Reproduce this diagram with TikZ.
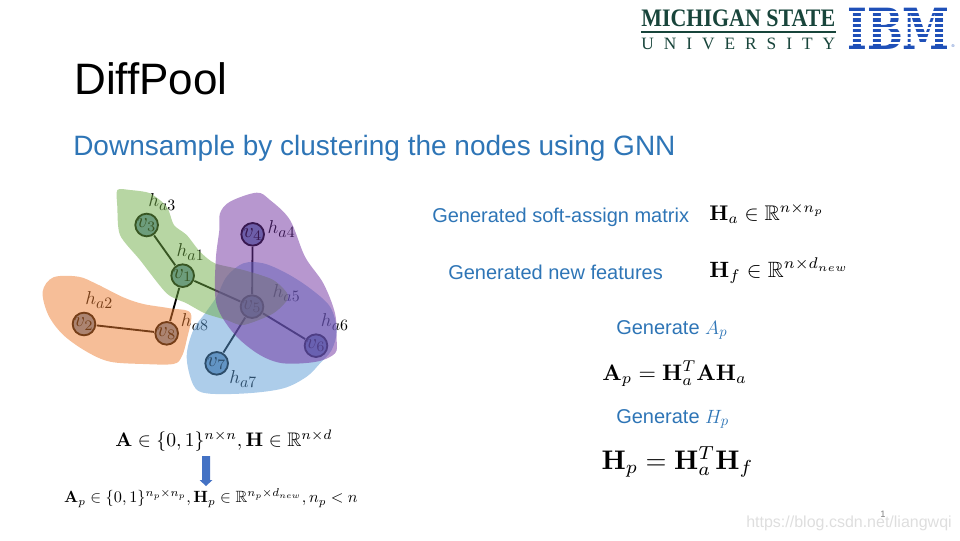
\documentclass[tikz,border=0pt]{standalone}
\usepackage{amsmath,amssymb,graphicx}
\usepackage[no-math]{fontspec}
\setmainfont{Liberation Sans}
\newfontfamily\msufont{Liberation Serif}
\newfontfamily\ibmfont{DejaVu Serif}
\definecolor{slideblue}{HTML}{2E75B6}
\definecolor{msugreen}{HTML}{18453B}
\definecolor{ibmblue}{HTML}{1F50B8}
\definecolor{vfill}{HTML}{6B8DB3}
\definecolor{arrowblue}{HTML}{4472C4}
\newcommand{\hsub}[1]{h_{\scalebox{.85}{$#1$}}}
\tikzset{
  vert/.style={circle,draw=black,line width=1.4pt,fill=vfill,minimum size=10.8pt,inner sep=0pt,scale=1.55},
  vedge/.style={draw=black,line width=1.4pt},
  hlab/.style={inner sep=0pt,scale=1.4},
  blob/.style={fill opacity=0.5,draw=none},
  bodytext/.style={text=slideblue,inner sep=0pt,font=\fontsize{15}{18}\selectfont,anchor=base west},
  formula/.style={inner sep=0pt,text=black},
  gap/.style={fill=white,draw=none}
}
\begin{document}
\begin{tikzpicture}[x=0.75pt,y=-0.75pt]
\useasboundingbox (0,0) rectangle (960,540);
% titles
\node[inner sep=0pt,anchor=base west,font=\fontsize{33}{36}\selectfont] (title) at (74,94) {DiffPool};
\node[inner sep=0pt,anchor=base west,text=slideblue,font=\fontsize{21}{24}\selectfont] (subtitle) at (73,155) {Downsample by clustering the nodes using GNN};
% graph (lies beneath the translucent clusters)
\begin{scope}[shift={(30,180)},x=0.25pt,y=-0.25pt]
\node[vert] (v1) at (458,287) {$v_1$};
\node[vert] (v2) at (162,432) {$v_2$};
\node[vert] (v3) at (350,135) {$v_3$};
\node[vert] (v4) at (668,163) {$v_4$};
\node[vert] (v5) at (666,380) {$v_5$};
\node[vert] (v6) at (858,497) {$v_6$};
\node[vert] (v7) at (560,550) {$v_7$};
\node[vert] (v8) at (410,460) {$v_8$};
\draw[vedge] (v3)--(v1);
\draw[vedge] (v1)--(v5);
\draw[vedge] (v1)--(v8);
\draw[vedge] (v2)--(v8);
\draw[vedge] (v4)--(v5);
\draw[vedge] (v5)--(v6);
\draw[vedge] (v5)--(v7);
\node[hlab] (h1) at (482,216) {$\hsub{a1}$};
\node[hlab] (h2) at (208,361) {$\hsub{a2}$};
\node[hlab] (h3) at (397,67) {$\hsub{a3}$};
\node[hlab] (h4) at (755,146) {$\hsub{a4}$};
\node[hlab] (h5) at (770,338) {$\hsub{a5}$};
\node[hlab] (h6) at (915,425) {$\hsub{a6}$};
\node[hlab] (h7) at (640,597) {$\hsub{a7}$};
\node[hlab] (h8) at (495,426) {$\hsub{a8}$};
% clusters
\fill[blob,fill={rgb,255:red,237;green,125;blue,49}] plot[smooth cycle,tension=.55] coordinates {(38,335)(70,292)(145,290)(200,312)(280,352)(340,372)(420,385)(482,400)(470,480)(455,530)(430,552)(340,552)(240,545)(170,515)(100,465)(55,405)};
\fill[blob,fill={rgb,255:red,91;green,155;blue,213}] plot[smooth cycle,tension=.55] coordinates {(470,530)(490,450)(525,400)(560,350)(590,290)(640,250)(700,250)(770,280)(840,325)(900,380)(920,450)(905,510)(870,550)(830,590)(760,625)(650,640)(530,640)(490,615)};
\fill[blob,fill={rgb,255:red,112;green,173;blue,71}] plot[smooth cycle,tension=.45] coordinates {(262,30)(300,30)(360,40)(410,80)(432,135)(470,165)(510,215)(555,250)(640,270)(730,300)(775,350)(730,400)(640,435)(590,420)(525,400)(470,370)(410,340)(330,240)(270,165)(262,80)};
\fill[blob,fill={rgb,255:red,112;green,48;blue,160}] plot[smooth cycle,tension=.55] coordinates {(570,100)(600,65)(680,38)(720,60)(780,120)(825,230)(880,310)(915,400)(920,480)(915,520)(860,545)(760,550)(690,525)(620,470)(570,400)(555,340)(558,230)(568,150)};
\end{scope}
% left formulas
\node[formula,scale=1.47] (f1) at (224,441) {$\mathbf{A}\in\{0,1\}^{n\times n},\mathbf{H}\in\mathbb{R}^{n\times d}$};
\node[formula,scale=1.22] (f2) at (211,498) {$\mathbf{A}_p\in\{0,1\}^{n_p\times n_p},\mathbf{H}_p\in\mathbb{R}^{n_p\times d_{new}},n_p<n$};
\fill[arrowblue] (202,456)--(210,456)--(210,480)--(212.5,480)--(206,486)--(199.5,480)--(202,480)--cycle;
% right text
\node[bodytext] (t1) at (432,222) {Generated soft-assign matrix};
\node[bodytext] (t2) at (448,279) {Generated new features};
\node[bodytext] (t3) at (616,334) {Generate $A_p$};
\node[bodytext] (t4) at (616,423) {Generate $H_p$};
\node[formula,anchor=base west,scale=1.59] (e1) at (709,220) {$\mathbf{H}_a\in\mathbb{R}^{n\times n_p}$};
\node[formula,anchor=base west,scale=1.66] (e2) at (709,277) {$\mathbf{H}_f\in\mathbb{R}^{n\times d_{new}}$};
\node[formula,anchor=base west,scale=1.68] (e3) at (602,380) {$\mathbf{A}_p=\mathbf{H}_a^T\mathbf{A}\mathbf{H}_a$};
\node[formula,anchor=base west,scale=2.02] (e4) at (601,469) {$\mathbf{H}_p=\mathbf{H}_a^T\mathbf{H}_f$};
% MSU logo
\node[inner sep=0pt,anchor=north west,text=msugreen] (msu) at (641,10) {\resizebox{145.5pt}{12.5pt}{\msufont\bfseries MICHIGAN STATE}};
\draw[msugreen,line width=1.2pt] (641,32)--(836,32);
\node[inner sep=0pt,anchor=north west,text=msugreen] (uni) at (641,38) {\makebox[145.5pt][s]{\fontsize{13}{14}\msufont U\hfill N\hfill I\hfill V\hfill E\hfill R\hfill S\hfill I\hfill T\hfill Y}};
% IBM logo
\node[inner sep=0pt,anchor=north west,text=ibmblue] (ibm) at (847,8) {\resizebox{77pt}{31pt}{\ibmfont\bfseries IBM}};
\foreach \k in {0,...,6} {\fill[gap] (846,{11.2+5.2*\k}) rectangle (951,{13.2+5.2*\k});}
\node[inner sep=0pt,text=ibmblue,font=\fontsize{3}{4}\selectfont] (reg) at (953,46) {®};
% footer
\node[inner sep=0pt,text=gray,font=\fontsize{7}{8}\selectfont] (num) at (883,514) {1};
\node[inner sep=0pt,anchor=base east,text=black!13,font=\fontsize{12}{14}\selectfont] (wm) at (952,527) {https://blog.csdn.net/liangwqi};
\end{tikzpicture}
\end{document}
